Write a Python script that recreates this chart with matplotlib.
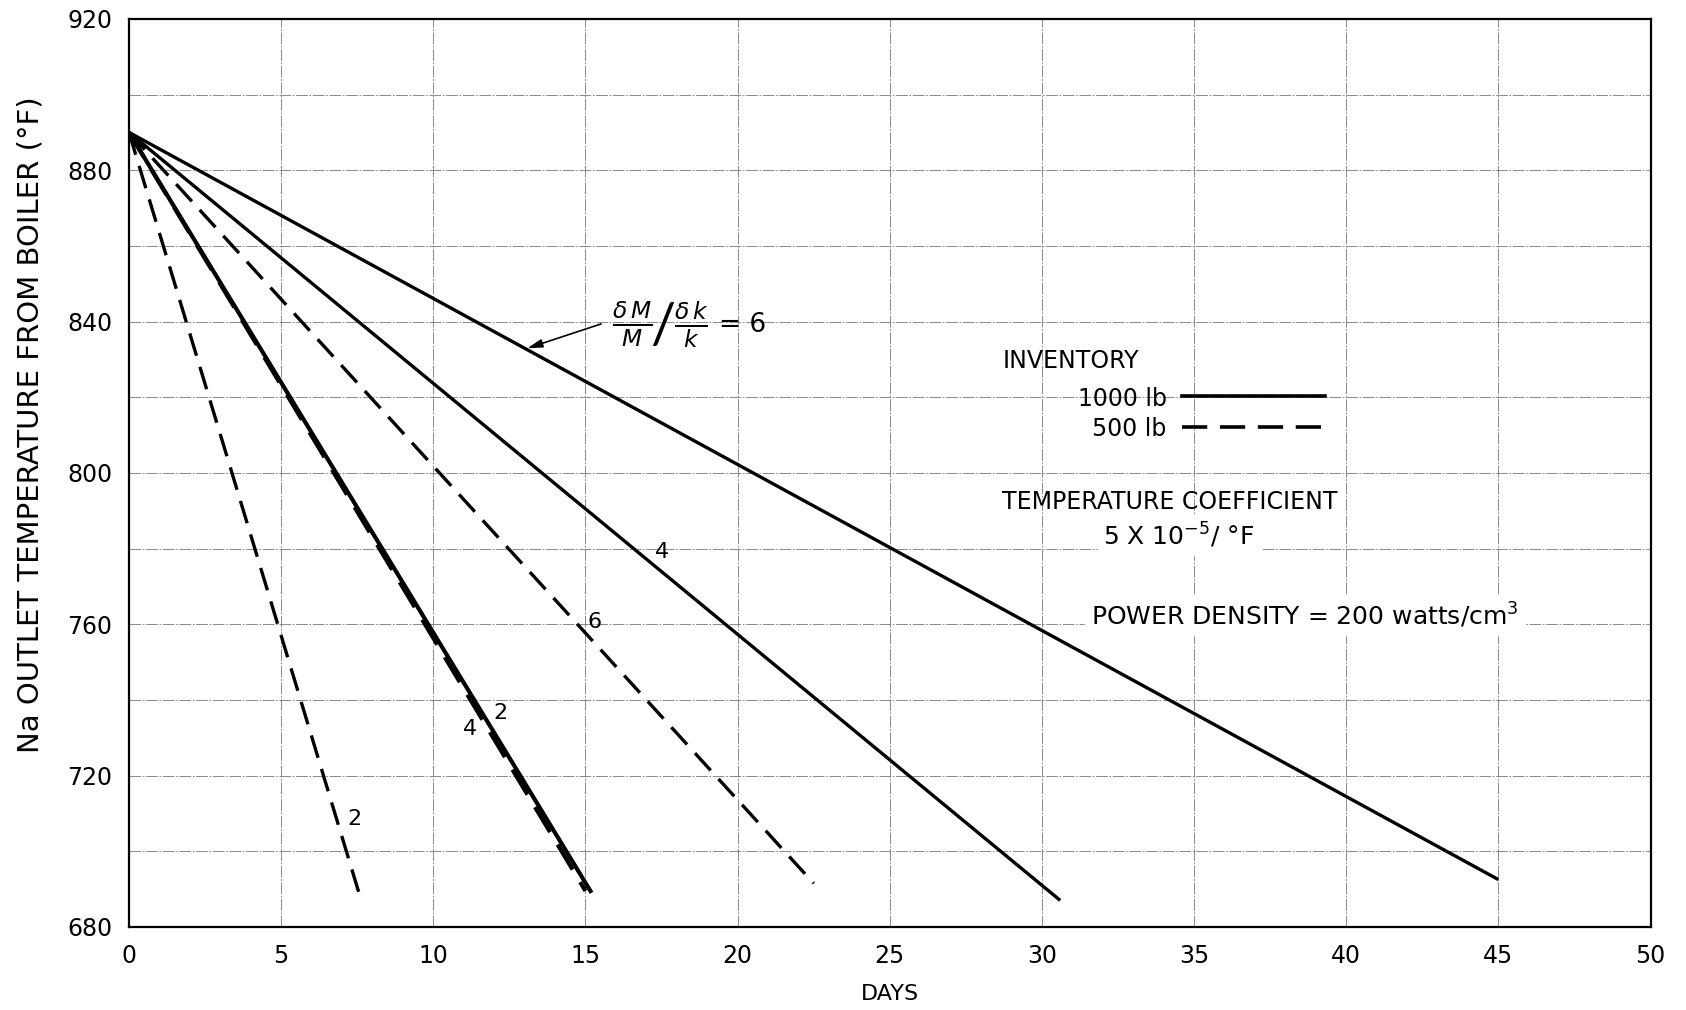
import matplotlib
matplotlib.use("Agg")
import matplotlib.pyplot as plt

# Curves: (days, outlet temperature in deg F)
# 1000 lb inventory (solid), labelled by dM/M / dk/k ratio
solid_6_days = [0, 45.0]
solid_6_temp = [890, 692.5]
solid_4_days = [0, 30.6]
solid_4_temp = [890, 687]
solid_2_days = [0, 15.2]
solid_2_temp = [890, 689]

# 500 lb inventory (dashed)
dashed_6_days = [0, 22.5]
dashed_6_temp = [890, 691.5]
dashed_4_days = [0, 15.0]
dashed_4_temp = [890, 689.5]
dashed_2_days = [0, 7.65]
dashed_2_temp = [890, 686.5]

# curve labels: (text, x, y)
curve_labels = [("4", 17.5, 779), ("6", 15.3, 760.5), ("4", 11.2, 732.3),
                ("2", 12.2, 736.6), ("2", 7.4, 708.5)]

x_ticks = [0, 5, 10, 15, 20, 25, 30, 35, 40, 45, 50]
y_ticks = [680, 720, 760, 800, 840, 880, 920]

plt.rcParams['mathtext.fontset'] = 'dejavusans'
plt.rcParams['font.family'] = 'DejaVu Sans'

fig = plt.figure(figsize=(16.86, 10.10), dpi=100)
ax = fig.add_axes([0.0765, 0.0823, 0.9025, 0.899])

dash = (0, (7, 3.5))
lw = 2.4
ax.plot(solid_6_days, solid_6_temp, color='black', lw=lw, solid_capstyle='butt')
ax.plot(solid_4_days, solid_4_temp, color='black', lw=lw, solid_capstyle='butt')
ax.plot(solid_2_days, solid_2_temp, color='black', lw=lw + 0.6, solid_capstyle='butt')
ax.plot(dashed_6_days, dashed_6_temp, color='black', lw=lw, linestyle=dash)
ax.plot(dashed_4_days, dashed_4_temp, color='black', lw=lw + 0.6, linestyle=dash)
ax.plot(dashed_2_days, dashed_2_temp, color='black', lw=lw, linestyle=dash)

for txt, x, y in curve_labels:
    ax.text(x, y, txt, fontsize=16, ha='center', va='center')

# ratio annotation with arrow
ax.annotate('', xy=(13.0, 832.7), xytext=(15.6, 839.6),
            arrowprops=dict(arrowstyle='-|>,head_length=0.9,head_width=0.25',
                            color='black', lw=1.2))
ax.text(17.2, 839.2, r'$\frac{\delta\,M}{M}$', fontsize=24, ha='right', va='center')
ax.text(17.55, 838.4, '/', fontsize=40, ha='center', va='center', family='Lato')
ax.text(17.9, 839.2, r'$\frac{\delta\,k}{k}$', fontsize=24, ha='left', va='center')
ax.text(19.4, 839.2, '= 6', fontsize=19, ha='left', va='center')

# legend block drawn as text + sample lines
ax.text(28.7, 829.6, 'INVENTORY', fontsize=17, ha='left', va='center')
ax.text(34.1, 819.6, '1000 lb', fontsize=17, ha='right', va='center')
ax.text(34.1, 811.6, '500 lb', fontsize=17, ha='right', va='center')
ax.plot([34.6, 39.3], [820.2, 820.2], color='black', lw=2.6)
ax.plot([34.6, 39.5], [812.2, 812.2], color='black', lw=2.6, linestyle=dash)

ax.text(28.7, 792.3, 'TEMPERATURE COEFFICIENT', fontsize=17, ha='left', va='center')
ax.text(34.5, 783.5, r'5 X 10$^{-5}$/ °F', fontsize=18, ha='center', va='center',
        backgroundcolor='white')
ax.text(31.6, 762.4, r'POWER DENSITY = 200 watts/cm$^3$', fontsize=18,
        ha='left', va='center', backgroundcolor='white')

ax.set_xlim(0, 50)
ax.set_ylim(680, 920)
ax.set_xticks(x_ticks)
ax.set_yticks(y_ticks)
ax.set_xticks(range(0, 51, 5), minor=True)
ax.set_yticks(range(680, 921, 20), minor=True)
ax.tick_params(which='both', length=0, labelsize=17)
ax.tick_params(axis='x', pad=12)
ax.tick_params(axis='y', pad=12)
ax.grid(which='both', color='#777777', lw=0.6, linestyle=(0, (14, 2, 2, 2)))
ax.set_axisbelow(True)
for s in ax.spines.values():
    s.set_linewidth(1.6)

ax.set_xlabel('DAYS', fontsize=16, labelpad=12)
ax.text(-3.25, 812.8, 'Na OUTLET TEMPERATURE FROM BOILER (°F)', fontsize=21,
        rotation=90, ha='center', va='center')

fig.savefig('out.png', dpi=100)
